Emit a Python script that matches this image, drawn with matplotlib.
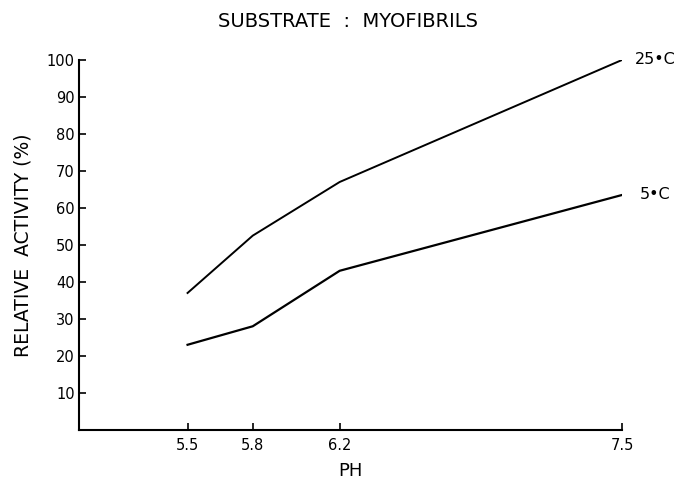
#!/usr/bin/env python3
"""Relative activity vs pH on myofibrils at two temperatures."""

import matplotlib

matplotlib.use("Agg")
import matplotlib.pyplot as plt

ph = [5.5, 5.8, 6.2, 7.5]
activity_25c = [37, 52.5, 67, 100]
activity_5c = [23, 28, 43, 63.5]

y_ticks = [10, 20, 30, 40, 50, 60, 70, 80, 90, 100]
x_ticks = [5.5, 5.8, 6.2, 7.5]
x_tick_labels = ["5.5", "5.8", "6.2", "7.5"]

fig = plt.figure(figsize=(6.86, 4.83), dpi=100)
ax = fig.add_axes([0.115, 0.110, 0.792, 0.766])

ax.plot(ph, activity_25c, "-", color="black", linewidth=1.4)
ax.plot(ph, activity_5c, "-", color="black", linewidth=1.6)

ax.text(7.56, activity_25c[-1], "25\u2022C", fontsize=11.5, va="center", ha="left")
ax.text(7.58, activity_5c[-1], "5\u2022C", fontsize=11.5, va="center", ha="left")

ax.set_xlim(5.0, 7.5)
ax.set_ylim(0, 100)
ax.set_xticks(x_ticks)
ax.set_xticklabels(x_tick_labels)
ax.set_yticks(y_ticks)

for side in ("top", "right"):
    ax.spines[side].set_visible(False)
for side in ("left", "bottom"):
    ax.spines[side].set_linewidth(1.5)

ax.tick_params(axis="both", direction="in", length=5, width=1.2, labelsize=10.5, pad=3)
ax.tick_params(axis="x", pad=6)

ax.set_xlabel("PH", fontsize=13, labelpad=6)
ax.set_ylabel("RELATIVE  ACTIVITY (%)", fontsize=13.5, labelpad=10)
fig.text(0.507, 0.975, "SUBSTRATE  :  MYOFIBRILS", fontsize=14, ha="center", va="top")

fig.savefig("out.png", dpi=100)
plt.close(fig)
